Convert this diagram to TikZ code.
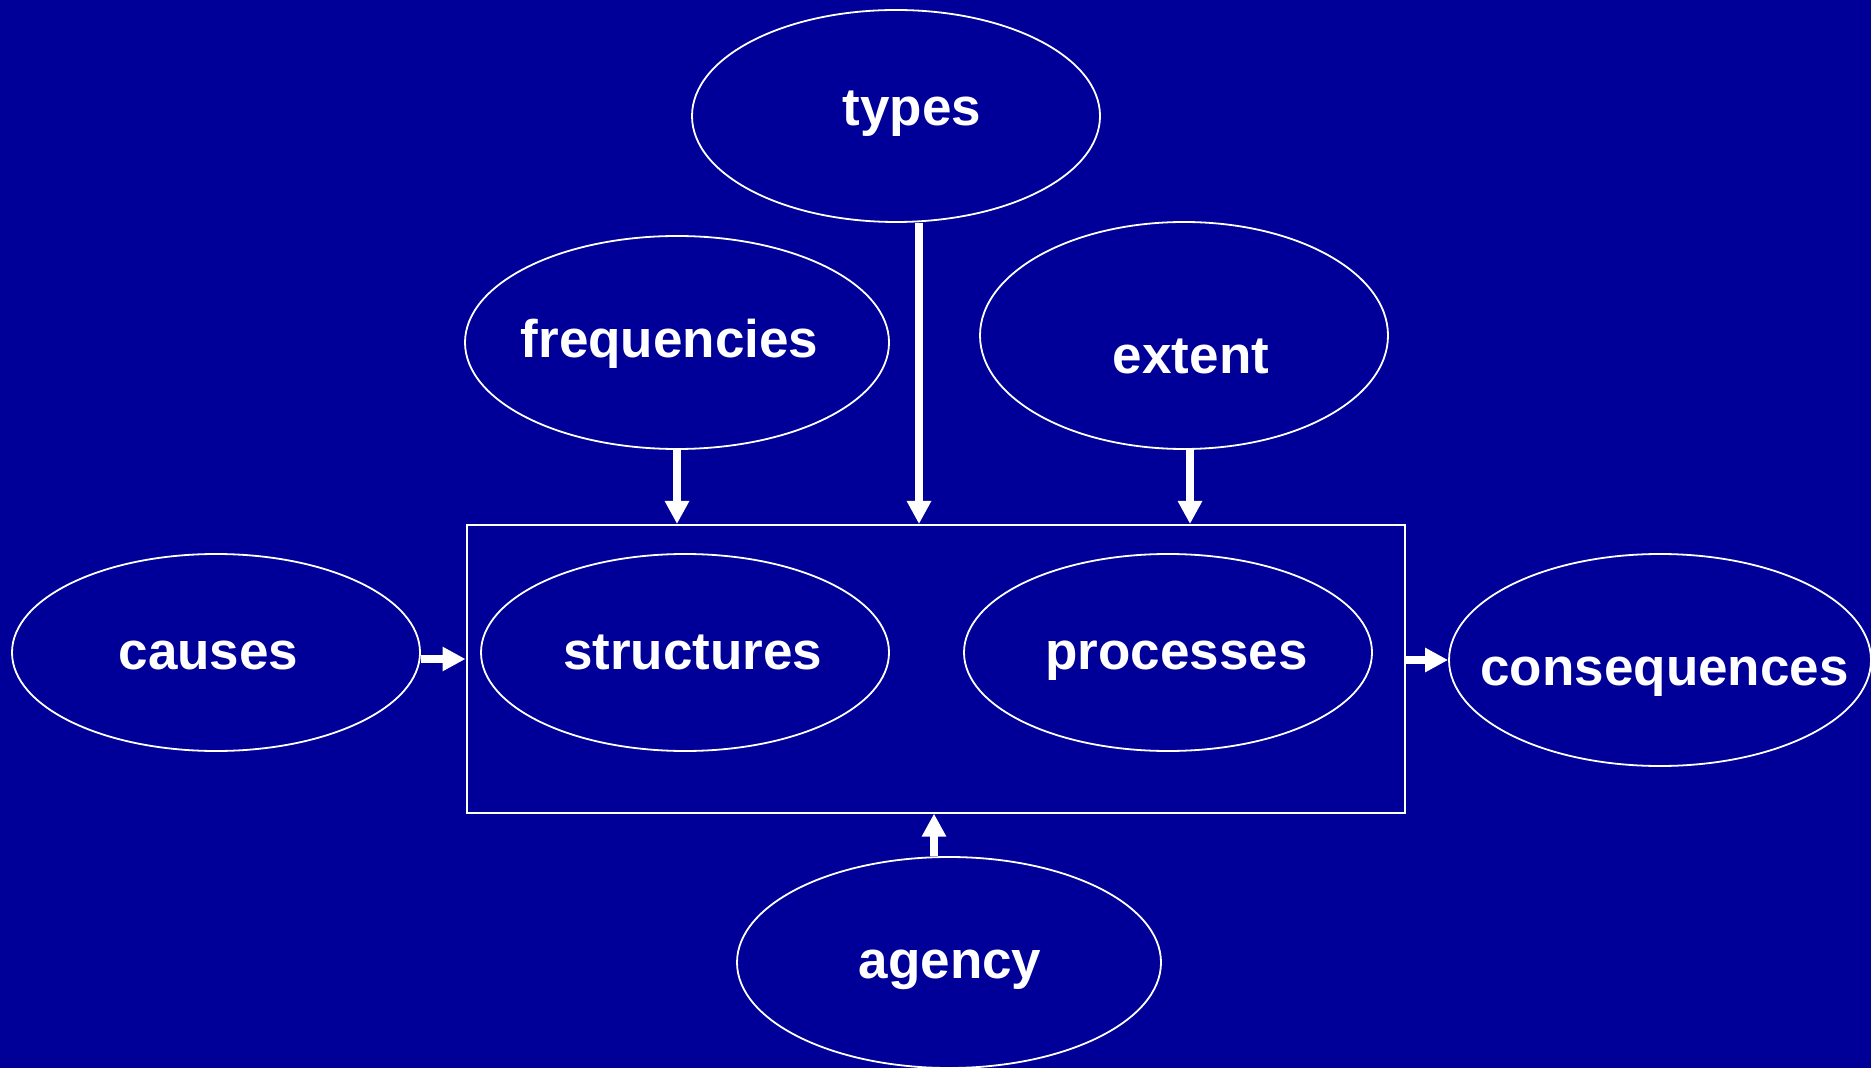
\documentclass[tikz,border=0pt]{standalone}
\usepackage{fontspec}
\setmainfont{Liberation Sans}
\usetikzlibrary{shapes.geometric,arrows.meta}
\definecolor{bgblue}{RGB}{0,0,153}
\tikzset{
  oval/.style={ellipse, draw=white, line width=0.9pt, inner sep=0pt},
  lbl/.style={text=white, font=\fontsize{26.5}{30}\selectfont\bfseries, anchor=base, inner sep=0pt},
  arr/.style={draw=white, line width=4.2pt, -{Triangle[length=11.5pt,width=11.5pt]}},
  frame/.style={draw=white, line width=1pt},
}
\begin{document}
\begin{tikzpicture}[x=0.5pt,y=-0.5pt]
\fill[bgblue] (0,0) rectangle (1871,1068);
\useasboundingbox (0,0) rectangle (1871,1068);

% ellipses
\node[oval, minimum width=204pt, minimum height=106pt] (types) at (896,116) {};
\node[oval, minimum width=212pt, minimum height=106.5pt] (freq) at (677,342.5) {};
\node[oval, minimum width=204pt, minimum height=113.5pt] (extent) at (1184,335.5) {};
\node[oval, minimum width=204pt, minimum height=98.5pt] (causes) at (216,652.5) {};
\node[oval, minimum width=204pt, minimum height=98.5pt] (struct) at (685,652.5) {};
\node[oval, minimum width=204pt, minimum height=98.5pt] (proc) at (1168,652.5) {};
\node[oval, minimum width=211pt, minimum height=106pt] (conseq) at (1660,660) {};
\node[oval, minimum width=212pt, minimum height=105.5pt] (agency) at (949,962.5) {};

% labels
\node[lbl] (typesL) at (912,126) {types};
\node[lbl] (freqL) at (669.5,358) {frequencies};
\node[lbl] (extentL) at (1191,373.5) {extent};
\node[lbl] (causesL) at (208.5,669) {causes};
\node[lbl] (structL) at (692.7,669) {structures};
\node[lbl] (procL) at (1176.6,669) {processes};
\node[lbl] (conseqL) at (1664.6,685) {consequences};
\node[lbl] (agencyL) at (950,978.5) {agency};

% frame
\node[frame, minimum width=469pt, minimum height=143.8pt, inner sep=0pt, anchor=north west] (box) at (465.5,524) {};

% arrows
\draw[arr] (freq.south) -- (freq.south |- box.north);
\draw[arr] ([xshift=11.5pt]types.south) -- ([xshift=11.5pt]types.south |- box.north);
\draw[arr] ([xshift=3pt]extent.south) -- ([xshift=3pt]extent.south |- box.north);
\draw[arr] ([yshift=-3.25pt]causes.east) -- ([yshift=-3.25pt]causes.east -| box.west);
\draw[arr] (box.east |- conseq.west) -- (conseq.west);
\draw[arr] ([xshift=-7.5pt]agency.north) -- ([xshift=-7.5pt]agency.north |- box.south);
\end{tikzpicture}
\end{document}
